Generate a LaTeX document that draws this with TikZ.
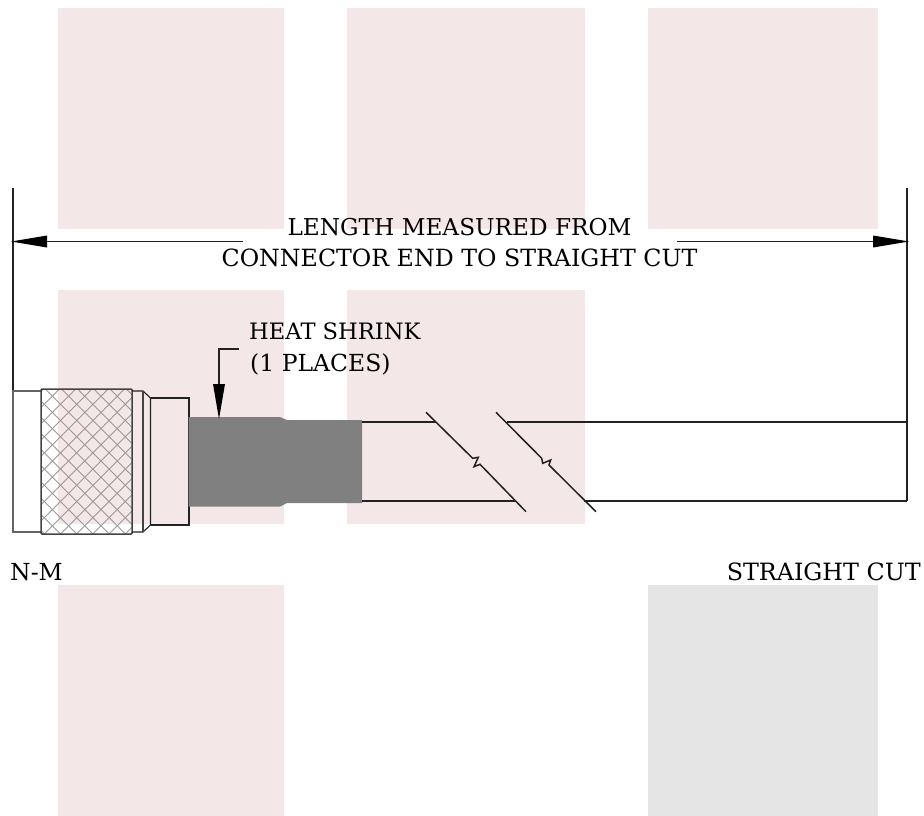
\documentclass[tikz,border=0pt]{standalone}
\usepackage{fontspec}
\setmainfont{DejaVu Serif}
\begin{document}
\begin{tikzpicture}[x=1pt,y=-1pt,
  pinkbg/.style={fill=bgpink,draw=none},
  graybg/.style={fill=bggray,draw=none},
  ln/.style={draw=inkc,line width=1.5pt},
  thin ln/.style={draw=inkc,line width=1.1pt},
  label/.style={text=black,inner sep=0pt},
  head/.style={fill=black,draw=none}]
\definecolor{bgpink}{HTML}{F4E7E7}
\definecolor{bggray}{HTML}{E5E5E5}
\definecolor{inkc}{HTML}{222222}
\definecolor{shrink}{HTML}{808080}
\definecolor{hatch}{HTML}{999999}
\useasboundingbox (0,0) rectangle (924,816);
% background
\fill[pinkbg] (58,8) rectangle (284,229);
\fill[pinkbg] (347,8) rectangle (585,229);
\fill[pinkbg] (648,8) rectangle (878,229);
\fill[pinkbg] (58,290) rectangle (284,524);
\fill[pinkbg] (347,290) rectangle (585,524);
\fill[pinkbg] (58,585) rectangle (284,816);
\fill[graybg] (648,585) rectangle (878,816);
% dimension
\coordinate (dl) at (13,241.5);
\coordinate (dr) at (907,241.5);
\coordinate (dle) at (243,241.5);
\coordinate (dre) at (677,241.5);
\draw[ln] (13,188) -- (13,391);
\draw[ln] (907,188) -- (907,501);
\draw[ln] (dl) -- (dle);
\draw[ln] (dr) -- (dre);
\fill[head] (11,241.5) -- (47,235.5) -- (47,247.5) -- cycle;
\fill[head] (909,241.5) -- (873,235.5) -- (873,247.5) -- cycle;
\node[label,anchor=base,font=\fontsize{23.2}{26}\selectfont] (t1) at (459.5,235) {LENGTH MEASURED FROM};
\node[label,anchor=base,font=\fontsize{23.7}{26}\selectfont] (t2) at (459.5,266) {CONNECTOR END TO STRAIGHT CUT};
% connector
\draw[thin ln,draw=inkc!70] (41,391) -- (13,391) -- (13,532) -- (41,532);
\begin{scope}
\clip (41,389) rectangle (132,534);
\foreach \k in {-12,...,20} {
  \draw[hatch,line width=0.9pt] (\k*16.2+20,380) -- ++(160,160);
  \draw[hatch,line width=0.9pt] (\k*16.2+20,380) -- ++(-160,160);
}
\end{scope}
\draw[draw=inkc!85,line width=1.5pt,rounded corners=1pt] (41,389) rectangle (132,534);
\draw[thin ln] (132,391) -- (143,391) -- (150.5,398) -- (150.5,525) -- (143,532) -- (132,532);
\draw[ln,draw=inkc!85] (143,391) -- (143,532);
\draw[thin ln] (150.5,398) -- (189,398) -- (189,525) -- (150.5,525);
% heat shrink
\fill[shrink] (188.7,417) -- (280,417) -- (287,420) -- (362,420) -- (362,503) -- (287,503) -- (280,506.5) -- (188.7,506.5) -- cycle;
% leader
\coordinate (la) at (239,349);
\coordinate (lb) at (219,349);
\coordinate (lc) at (219,395);
\draw[thin ln] (la) -- (lb) -- (lc);
\fill[head] (219,419) -- (213,384) -- (225,384) -- cycle;
\node[label,anchor=base west,font=\fontsize{22.6}{26}\selectfont] (t3) at (249,339) {HEAT SHRINK};
\node[label,anchor=base west,font=\fontsize{23.5}{26}\selectfont] (t4) at (250,371) {(1 PLACES)};
% cable
\draw[ln] (362,422) -- (436,422);
\draw[ln] (362,501) -- (516,501);
\draw[ln] (507,422) -- (907,422);
\draw[ln] (584,501) -- (907,501);
% break marks
\draw[ln] (426,412.3) -- (472.7,458.3) -- (478.3,457.3) -- (474,466.7) -- (480,464.3) -- (526,511.7);
\draw[ln] (496,412.3) -- (541.7,458.3) -- (542.7,463.3) -- (550.7,460) -- (549,465) -- (596,511.7);
\node[label,anchor=base west,font=\fontsize{23.5}{26}\selectfont] (t5) at (10,580) {N-M};
\node[label,anchor=base east,font=\fontsize{23.8}{26}\selectfont] (t6) at (921,580) {STRAIGHT CUT};
\end{tikzpicture}
\end{document}
